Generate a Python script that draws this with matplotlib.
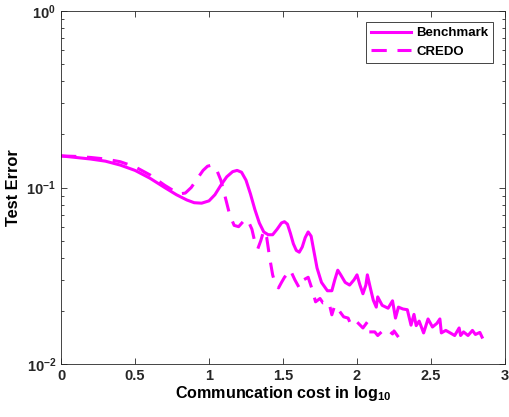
import matplotlib
matplotlib.use("Agg")
import matplotlib.pyplot as plt
from matplotlib.ticker import LogLocator, NullFormatter, FixedLocator

plt.rcParams['font.family'] = ['Liberation Sans', 'DejaVu Sans']
plt.rcParams['font.weight'] = 'bold'
plt.rcParams['mathtext.fontset'] = 'custom'
plt.rcParams['mathtext.rm'] = 'Liberation Sans:bold'
plt.rcParams['mathtext.default'] = 'rm'

bench_x = [0.00, 0.10, 0.20, 0.30, 0.40, 0.50, 0.60, 0.70, 0.78, 0.85, 0.90, 0.95,
           1.00, 1.04, 1.08, 1.12, 1.16, 1.19, 1.22, 1.25, 1.28, 1.31, 1.34, 1.37,
           1.40, 1.43, 1.46, 1.49, 1.51, 1.53, 1.55, 1.57, 1.59, 1.61, 1.63, 1.65,
           1.67, 1.69, 1.71, 1.73, 1.76, 1.80, 1.83, 1.85, 1.87, 1.89,
           1.92, 1.95, 1.98, 2.00, 2.02, 2.04, 2.06, 2.07, 2.09, 2.11, 2.13, 2.14, 2.17, 2.21,
           2.24, 2.26, 2.28, 2.31, 2.34, 2.365, 2.385, 2.40, 2.42, 2.45, 2.48, 2.51,
           2.54, 2.56, 2.57, 2.60, 2.63, 2.66, 2.69, 2.70, 2.72, 2.75, 2.78, 2.80,
           2.83, 2.845]
bench_y = [0.151, 0.148, 0.145, 0.141, 0.134, 0.125, 0.113, 0.100, 0.091, 0.085, 0.082, 0.0815,
           0.084, 0.091, 0.103, 0.115, 0.123, 0.125, 0.122, 0.110, 0.092, 0.075, 0.063, 0.056,
           0.054, 0.054, 0.058, 0.063, 0.064, 0.062, 0.055, 0.048, 0.044, 0.043, 0.046, 0.052,
           0.056, 0.053, 0.043, 0.035, 0.029, 0.026, 0.026, 0.030, 0.034, 0.032,
           0.029, 0.028, 0.030, 0.032, 0.028, 0.025, 0.028, 0.032, 0.027, 0.023, 0.021, 0.024, 0.0215, 0.0207,
           0.0228, 0.0182, 0.021, 0.0205, 0.0203, 0.0166, 0.0191, 0.0165, 0.0175, 0.015, 0.018, 0.0162,
           0.017, 0.018, 0.015, 0.0155, 0.015, 0.0145, 0.016, 0.0145, 0.0152, 0.0145, 0.0155, 0.0147,
           0.0151, 0.0142]

credo_x = [0.00, 0.10, 0.20, 0.30, 0.40, 0.50, 0.60, 0.70, 0.76, 0.80, 0.84, 0.88, 0.92,
           0.96, 0.99, 1.02, 1.05, 1.08, 1.11, 1.14, 1.17, 1.20, 1.23, 1.26, 1.29, 1.31, 1.33, 1.35, 1.37,
           1.39, 1.41, 1.43, 1.45, 1.47, 1.49, 1.51, 1.55, 1.58, 1.61, 1.64, 1.67, 1.70, 1.72, 1.75,
           1.77, 1.81, 1.83, 1.85, 1.88, 1.91, 1.94, 1.96, 2.00, 2.04, 2.07, 2.08,
           2.12, 2.14, 2.18, 2.21, 2.24, 2.25, 2.28]
credo_y = [0.151, 0.150, 0.148, 0.145, 0.140, 0.131, 0.118, 0.103, 0.096, 0.092, 0.093, 0.100, 0.112,
           0.125, 0.132, 0.134, 0.127, 0.110, 0.088, 0.070, 0.061, 0.060, 0.064, 0.066, 0.058, 0.049, 0.045, 0.050, 0.057,
           0.052, 0.040, 0.032, 0.028, 0.027, 0.029, 0.031, 0.034, 0.030, 0.027, 0.030, 0.031, 0.026, 0.0225, 0.0235,
           0.0222, 0.0224, 0.019, 0.0215, 0.020, 0.0185, 0.0182, 0.0166, 0.0173, 0.0160, 0.0173, 0.0152,
           0.0152, 0.0145, 0.0156, 0.0156, 0.0148, 0.0154, 0.0142]

x_ticks = [0, 0.5, 1, 1.5, 2, 2.5, 3]
x_tick_labels = ['0', '0.5', '1', '1.5', '2', '2.5', '3']

fig = plt.figure(figsize=(5.09, 4.17), dpi=100)
ax = fig.add_axes([61/509, 53/417, 444/509, 353/417])

color = '#ff00ff'
ax.plot(bench_x, bench_y, color=color, lw=2.2, label='Benchmark')
ax.plot(credo_x, credo_y, color=color, lw=2.2, ls=(0, (5, 3.5)), label='CREDO')

ax.set_yscale('log')
ax.set_xlim(0, 3)
ax.set_ylim(1e-2, 1)
ax.set_xticks(x_ticks)
ax.set_xticklabels(x_tick_labels)
ax.yaxis.set_major_locator(FixedLocator([1e-2, 1e-1, 1]))
ax.set_yticklabels([r'$10^{-2}$', r'$10^{-1}$', r'$10^{0}$'])
ax.yaxis.set_minor_locator(LogLocator(base=10, subs=range(2, 10)))
ax.yaxis.set_minor_formatter(NullFormatter())

ax.tick_params(which='both', direction='in', top=True, right=True, colors='#262626',
               labelsize=10.5, width=0.6)
ax.tick_params(which='major', length=4)
ax.tick_params(which='minor', length=2.5)
for lbl in ax.get_xticklabels() + ax.get_yticklabels():
    lbl.set_fontweight('bold')
for s in ax.spines.values():
    s.set_color('#262626')
    s.set_linewidth(0.6)

ax.set_xlabel(r'Communcation cost in log$_{10}$', fontsize=11.6, fontweight='bold', labelpad=1)
ax.set_ylabel('Test Error', fontsize=11.8, fontweight='bold', labelpad=4)

leg = ax.legend(loc='upper right', bbox_to_anchor=(0.974, 0.969), borderaxespad=0,
                fancybox=False, edgecolor='#262626', framealpha=1, handlelength=3.0,
                borderpad=0.4, labelspacing=0.45, handletextpad=0.4,
                prop={'size': 9.5, 'weight': 'bold'})
leg.get_frame().set_linewidth(0.6)

fig.savefig('out.png', dpi=100)
